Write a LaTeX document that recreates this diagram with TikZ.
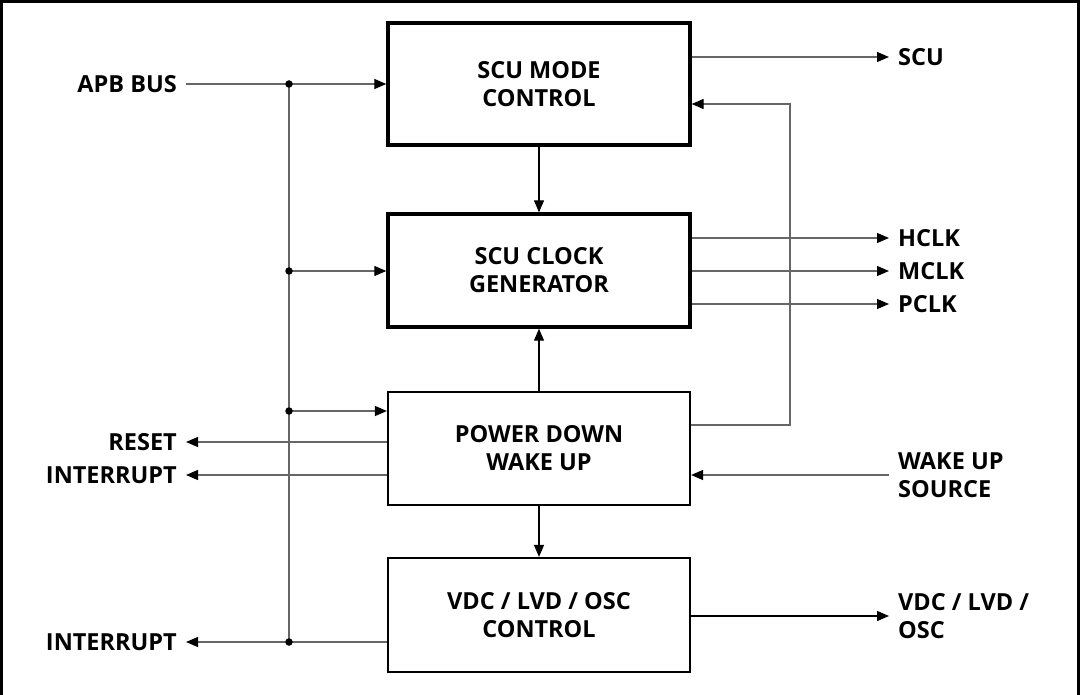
\documentclass[tikz,border=0pt]{standalone}
\usepackage{fontspec}
\setmainfont{Open Sans}
\usetikzlibrary{arrows.meta}
\begin{document}
\begin{tikzpicture}[x=1pt,y=-1pt,
  txt/.style={font=\fontsize{23.5}{28}\selectfont\bfseries},
  thickbox/.style={draw=black,line width=3.4pt,minimum width=302pt,align=center,txt,inner sep=0pt},
  thinbox/.style={draw=black,line width=2.2pt,minimum width=302pt,align=center,txt,inner sep=0pt},
  lbl/.style={txt,inner xsep=9pt,inner ysep=0pt},
  conn/.style={draw=black!60,line width=1.3pt},
  arr/.style={conn,-{Triangle[length=12pt,width=10pt,color=black]}},
  darr/.style={draw=black,line width=1.3pt,-{Triangle[length=12pt,width=10pt,color=black]}},
  dot/.style={circle,fill=black,inner sep=0pt,minimum size=7.5pt}
]
\useasboundingbox (0,0) rectangle (1080,695);
% outer frame (open at bottom)
\draw[line width=3pt,black] (1.5,695) -- (1.5,1.5) -- (1078.5,1.5) -- (1078.5,695);

% blocks
\node[thickbox,minimum height=122pt] (mode) at (539,84) {SCU MODE\\CONTROL};
\node[thickbox,minimum height=113pt] (clock) at (539,270.5) {SCU CLOCK\\GENERATOR};
\node[thinbox,minimum height=113pt] (power) at (539,448.5) {POWER DOWN\\WAKE UP};
\node[thinbox,minimum height=114pt] (vdc) at (539,615) {VDC / LVD / OSC\\CONTROL};

% left labels
\node[lbl,anchor=east] (apb) at (186,84) {APB BUS};
\node[lbl,anchor=east] (reset) at (186,442) {RESET};
\node[lbl,anchor=east] (int1) at (186,475) {INTERRUPT};
\node[lbl,anchor=east] (int2) at (186,642) {INTERRUPT};

% right labels
\node[lbl,anchor=west] (scu) at (889,57) {SCU};
\node[lbl,anchor=west] (hclk) at (889,238) {HCLK};
\node[lbl,anchor=west] (mclk) at (889,271) {MCLK};
\node[lbl,anchor=west] (pclk) at (889,304) {PCLK};
\node[lbl,anchor=west,align=left] (wake) at (889,475) {WAKE UP\\SOURCE};
\node[lbl,anchor=west,align=left] (vdco) at (889,616) {VDC / LVD /\\OSC};

% bus junctions
\coordinate (j1) at (289,84);
\coordinate (j2) at (289,271);
\coordinate (j3) at (289,411);
\coordinate (j4) at (289,642);
\coordinate (fb1) at (790,425);
\coordinate (fb2) at (790,104);

% bus
\draw[conn] (j1) -- (j4);
\draw[arr] (apb.east) -- (mode.west);
\draw[arr] (j2) -- (j2 -| clock.west);
\draw[arr] (j3) -- (j3 -| power.west);
\draw[arr] (power.west |- reset.east) -- (reset.east);
\draw[arr] (power.west |- int1.east) -- (int1.east);
\draw[arr] (vdc.west |- int2.east) -- (int2.east);
\node[dot] (d1) at (j1) {};
\node[dot] (d2) at (j2) {};
\node[dot] (d3) at (j3) {};
\node[dot] (d4) at (j4) {};

% vertical flow
\draw[darr] (mode.south) -- (clock.north);
\draw[darr] (power.north) -- (clock.south);
\draw[darr] (power.south) -- (vdc.north);

% right side
\draw[arr] (mode.east |- scu.west) -- (scu.west);
\draw[arr] (power.east |- fb1) -- (fb1) -- (fb2) -- (mode.east |- fb2);
\draw[arr] (clock.east |- hclk.west) -- (hclk.west);
\draw[arr] (clock.east |- mclk.west) -- (mclk.west);
\draw[arr] (clock.east |- pclk.west) -- (pclk.west);
\draw[arr] (wake.west) -- (wake.west -| power.east);
\draw[darr] (vdc.east |- vdco.west) -- (vdco.west);
\end{tikzpicture}
\end{document}
